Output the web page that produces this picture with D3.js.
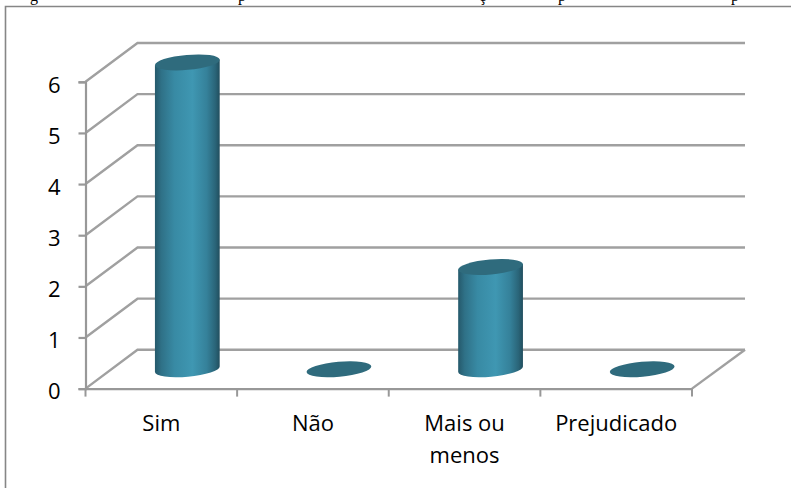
<!DOCTYPE html>
<html lang="pt">
<head>
<meta charset="utf-8">
<script src="https://cdnjs.cloudflare.com/ajax/libs/d3/7.8.5/d3.min.js"></script>
<style>
html, body { margin: 0; padding: 0; background: #fff; }
svg { display: block; }
</style>
</head>
<body>
<svg id="chart" width="791" height="488"></svg>
<script>
const categories = ["Sim", "Não", "Mais ou menos", "Prejudicado"];
const values = [6, 0, 2, 0];
const yTicks = [0, 1, 2, 3, 4, 5, 6];
const captionFragments = [
  { text: "g", at: 30 },
  { text: "p", at: 238 },
  { text: "ç", at: 479 },
  { text: "p", at: 558 },
  { text: "p", at: 731 }
];

const svg = d3.select("#chart");
const gridColor = "#a0a0a0";
const axisColor = "#989898";
const font = "'Open Sans', sans-serif";

// Oblique projection: depth shifts a point up and to the right
const depth = { dx: 52, dy: -38.8 };
const x = d3.scaleBand().domain(categories).range([85.5, 692]);
const y = d3.scaleLinear().domain([0, 6]).range([388.6, 81.8]);

// Cylinder shading runs left to right across the body
const defs = svg.append("defs");
const shade = defs.append("linearGradient").attr("id", "body")
  .attr("x1", 0).attr("x2", 1).attr("y1", 0).attr("y2", 0);
[[0, "#25596b"], [0.1, "#2f7187"], [0.3, "#388aa4"], [0.58, "#3f97b2"],
 [0.8, "#35819a"], [0.93, "#2a6579"], [1, "#214e5e"]]
  .forEach(([o, c]) => shade.append("stop").attr("offset", o).attr("stop-color", c));

// Page caption sits above the chart frame, cut by the top edge
svg.append("g").attr("font-family", "'Liberation Serif', serif").attr("font-size", 16)
  .attr("fill", "#000")
  .selectAll("text").data(captionFragments).join("text")
  .attr("x", d => d.at).attr("y", 1).text(d => d.text);

// Chart frame: only the top and left edges fall inside the page
svg.append("path")
  .attr("d", "M5.5,488V6.5H791")
  .attr("fill", "none").attr("stroke", "#868686").attr("stroke-width", 1.6);

// Side wall, back wall and floor lines
const walls = svg.append("g").attr("fill", "none").attr("stroke", gridColor).attr("stroke-width", 2.4);
const backRight = x.range()[1] + depth.dx + 1;
walls.selectAll("path").data(yTicks).join("path")
  .attr("d", d => `M${x.range()[0]},${y(d)}L${x.range()[0] + depth.dx},${y(d) + depth.dy}H${backRight}`);
walls.append("path")
  .attr("d", `M${x.range()[1]},${y(0)}L${backRight},${y(0) + depth.dy}`);

// Value axis
const yAxis = svg.append("g").attr("transform", `translate(${x.range()[0]},0)`)
  .call(d3.axisLeft(y).tickValues(yTicks).tickFormat(d3.format("d")).tickSize(7).tickPadding(18));
yAxis.selectAll("path, line").attr("stroke", axisColor).attr("stroke-width", 2.2);
yAxis.selectAll("text").attr("font-family", font).attr("font-size", 22).attr("fill", "#000").attr("dy", "0.47em");

// Category axis
const xAxis = svg.append("g").attr("transform", `translate(0,${y(0)})`)
  .call(d3.axisBottom(x).tickValues([]).tickSize(0));
xAxis.select("path").attr("stroke", axisColor).attr("stroke-width", 2.2);
const tickXs = categories.map(c => x(c)).concat(x.range()[1]);
svg.append("g").attr("stroke", axisColor).attr("stroke-width", 2)
  .selectAll("line").data(tickXs).join("line")
  .attr("x1", d => d).attr("x2", d => d)
  .attr("y1", y(0)).attr("y2", y(0) + 8);

// Category labels wrap at spaces when they are too long for one band
const labels = svg.append("g").attr("font-family", font).attr("font-size", 22)
  .attr("fill", "#000").attr("text-anchor", "middle");
categories.forEach(c => {
  const lines = c === "Mais ou menos" ? ["Mais ou", "menos"] : [c];
  const t = labels.append("text").attr("y", 431);
  lines.forEach((l, i) => t.append("tspan")
    .attr("x", x(c) + x.bandwidth() / 2).attr("dy", i ? 32 : 0).text(l));
});

// Cylinders stand in the middle of the floor depth
const tiltDeg = -5;
const rx = 32.5, ry = 7.5, tilt = tiltDeg * Math.PI / 180;
const ex = rx * Math.cos(tilt), ey = rx * Math.sin(tilt);
const cyl = svg.append("g").selectAll("g").data(categories.map((c, i) => ({ c, v: values[i] }))).join("g")
  .attr("transform", d => `translate(${x(d.c) + x.bandwidth() / 2 + depth.dx / 2},${depth.dy / 2})`);

cyl.filter(d => d.v > 0).append("path")
  .attr("fill", "url(#body)")
  .attr("d", d => {
    const top = y(d.v), base = y(0);
    return `M${-ex},${top - ey}L${-ex},${base - ey}` +
      `A${rx},${ry} ${tiltDeg} 0 0 ${ex},${base + ey}L${ex},${top + ey}Z`;
  });

cyl.append("ellipse")
  .attr("rx", rx).attr("ry", ry)
  .attr("transform", d => `translate(0,${y(d.v)}) rotate(${tiltDeg})`)
  .attr("fill", "#2f6b7d");
</script>
</body>
</html>
